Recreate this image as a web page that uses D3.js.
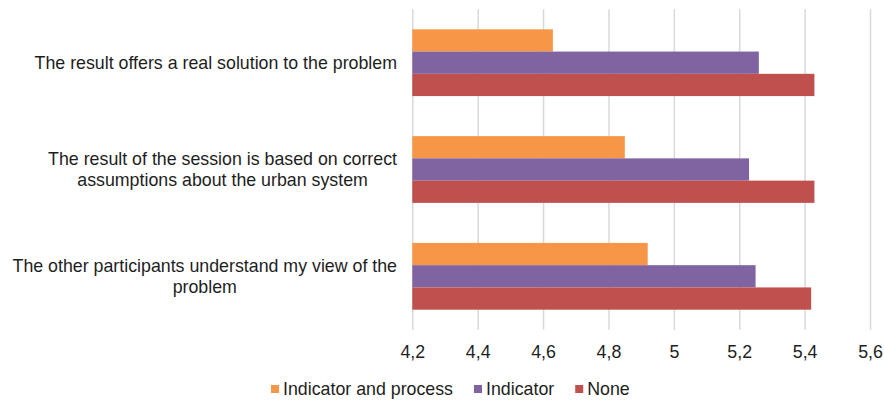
<!DOCTYPE html>
<html>
<head>
<meta charset="utf-8">
<script src="https://cdn.jsdelivr.net/npm/d3@7"></script>
<style>
  body { margin: 0; background: #fff; }
  svg { display: block; font-family: "Liberation Sans", Arial, sans-serif; }
</style>
</head>
<body>
<svg id="chart" width="884" height="402"></svg>
<script>
'use strict';
// statements, top to bottom
var categories = [
    ['The result offers a real solution to the problem'],
    ['The result of the session is based on correct', 'assumptions about the urban system'],
    ['The other participants understand my view of the', 'problem']
];
var seriesNames = ['Indicator and process', 'Indicator', 'None'];
var indicatorAndProcess = [4.63, 4.85, 4.92];
var indicator = [5.26, 5.23, 5.25];
var none = [5.43, 5.43, 5.42];
var xTicks = [4.2, 4.4, 4.6, 4.8, 5.0, 5.2, 5.4, 5.6];

var colors = ['#F79646', '#8064A2', '#C0504D'];
var series = [indicatorAndProcess, indicator, none];
var textColor = '#1e1e1e';
var fontSize = '17.8px';

var svg = d3.select('#chart');
var margin = { left: 412.3, right: 14, top: 9.3, bottom: 72.3 };
var width = 884 - margin.left - margin.right,
    height = 402 - margin.top - margin.bottom;

var g = svg.append('g')
    .attr('transform', 'translate(' + margin.left + ',' + margin.top + ')');

var xScale = d3.scaleLinear()
    .domain([4.2, 5.6])
    .range([0, width]);

var yScale = d3.scaleBand()
    .domain(d3.range(categories.length))
    .range([0, height])
    .paddingInner(0.375)
    .paddingOuter(0.1875);

var inner = d3.scaleBand()
    .domain(d3.range(series.length))
    .range([0, yScale.bandwidth()]);

// gridlines + tick labels
var xAxis = d3.axisBottom(xScale)
    .tickValues(xTicks)
    .tickFormat(function(d) { return d3.format('.1f')(d).replace('.0', '').replace('.', ','); })
    .tickSizeInner(-height)
    .tickSizeOuter(0)
    .tickPadding(16);

var axisG = g.append('g')
    .attr('transform', 'translate(0,' + height + ')')
    .call(xAxis);
axisG.select('.domain').remove();
axisG.selectAll('.tick line')
    .attr('stroke', '#D9D9D9')
    .attr('stroke-width', 1.5);
axisG.selectAll('.tick text')
    .attr('fill', textColor)
    .style('font-size', fontSize);

// bars
series.forEach(function(vals, si) {
    g.append('g').selectAll('rect')
        .data(vals)
        .enter().append('rect')
        .attr('x', 0)
        .attr('y', function(d, i) { return yScale(i) + inner(si); })
        .attr('width', function(d) { return xScale(d) - xScale(4.2); })
        .attr('height', inner.bandwidth())
        .attr('fill', colors[si]);
});

// category labels, Excel-ish: lines centred within a right-aligned block
var labelRight = 397;
var lineH = 21.3;
categories.forEach(function(lines, i) {
    var t = svg.append('text')
        .attr('fill', textColor)
        .style('font-size', fontSize)
        .attr('text-anchor', 'middle');
    var cy = margin.top + yScale(i) + yScale.bandwidth() / 2;
    var y0 = cy - (lines.length - 1) * lineH / 2;
    lines.forEach(function(l, k) {
        t.append('tspan').attr('y', y0 + k * lineH).attr('dy', '0.35em').text(l);
    });
    var maxW = d3.max(t.selectAll('tspan').nodes(), function(n) { return n.getComputedTextLength(); });
    t.selectAll('tspan').attr('x', labelRight - maxW / 2);
});

// legend
var legend = svg.append('g');
var lx = 271;
seriesNames.forEach(function(name, i) {
    var item = legend.append('g').attr('transform', 'translate(' + lx + ',389)');
    item.append('rect')
        .attr('x', 0).attr('y', -4)
        .attr('width', 8).attr('height', 8)
        .attr('fill', colors[i]);
    var txt = item.append('text')
        .attr('x', 12)
        .attr('dy', '0.35em')
        .attr('fill', textColor)
        .style('font-size', fontSize)
        .text(name);
    lx += 12 + txt.node().getComputedTextLength() + 21;
});
</script>
</body>
</html>
